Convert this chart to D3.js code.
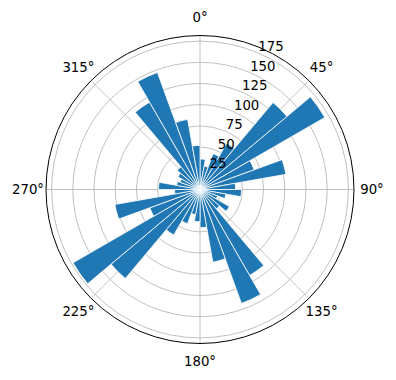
<!DOCTYPE html>
<html>
<head>
<meta charset="utf-8">
<script src="https://cdn.jsdelivr.net/npm/d3@7"></script>
<style>
  body { margin: 0; background: #fff; }
  svg text { font-family: "DejaVu Sans", sans-serif; font-size: 13.3px; fill: #000; }
</style>
</head>
<body>
<div id="chart"></div>
<script>
// bin centres (deg) and counts
const directions = [5, 15, 25, 35, 45, 55, 65, 75, 85, 95, 105, 115, 125, 135, 145, 155, 165, 175,
  185, 195, 205, 215, 225, 235, 245, 255, 265, 275, 285, 295, 305, 315, 325, 335, 345, 355];
const counts = [36, 28, 45, 63, 134, 170, 68, 103, 42, 49, 31, 22, 40, 30, 117, 143, 87, 45,
  38, 30, 43, 62, 137, 173, 63, 102, 30, 49, 28, 25, 30, 35, 119, 147, 84, 52];
const binWidth = 10;
const rTicks = [25, 50, 75, 100, 125, 150, 175];
const thetaTicks = [0, 45, 90, 135, 180, 225, 270, 315];

const width = 396, height = 380;
const cx = 200, cy = 189.5, R = 154;

const svg = d3.select("#chart").append("svg")
  .attr("width", width)
  .attr("height", height);
const g = svg.append("g").attr("transform", `translate(${cx},${cy})`);

const rmax = d3.max(counts) * 1.05;
const r = d3.scaleLinear().domain([0, rmax]).range([0, R]);
const theta = d3.scaleLinear().domain([0, 360]).range([0, 2 * Math.PI]);

// grid circles
g.selectAll(".rgrid")
  .data(rTicks)
  .enter().append("circle")
  .attr("r", d => r(d))
  .attr("fill", "none")
  .attr("stroke", "#b0b0b0")
  .attr("stroke-width", 0.8);

// spokes
g.selectAll(".tgrid")
  .data(thetaTicks)
  .enter().append("line")
  .attr("x1", 0).attr("y1", 0)
  .attr("x2", d => R * Math.sin(theta(d)))
  .attr("y2", d => -R * Math.cos(theta(d)))
  .attr("stroke", "#b0b0b0")
  .attr("stroke-width", 0.8);

// bars
const arc = d3.arc()
  .innerRadius(0)
  .outerRadius(d => r(d.v))
  .startAngle(d => theta(d.a - binWidth / 2))
  .endAngle(d => theta(d.a + binWidth / 2));

g.selectAll(".bar")
  .data(directions.map((a, i) => ({ a: a, v: counts[i] })))
  .enter().append("path")
  .attr("class", "bar")
  .attr("d", arc)
  .attr("fill", "#1f77b4")
  .attr("stroke", "#fff")
  .attr("stroke-width", 0.8);

// outer spine
g.append("circle")
  .attr("r", R)
  .attr("fill", "none")
  .attr("stroke", "#000")
  .attr("stroke-width", 1);

// angle labels
g.selectAll(".tlabel")
  .data(thetaTicks)
  .enter().append("text")
  .attr("x", d => (R + 18) * Math.sin(theta(d)))
  .attr("y", d => -(R + 18) * Math.cos(theta(d)))
  .attr("text-anchor", "middle")
  .attr("dominant-baseline", "central")
  .text(d => d + "°");

// radial labels along 22.5 deg
const rlabelAngle = theta(22.5);
g.selectAll(".rlabel")
  .data(rTicks)
  .enter().append("text")
  .attr("x", d => r(d) * Math.sin(rlabelAngle) + 1.5)
  .attr("y", d => -r(d) * Math.cos(rlabelAngle) - 1.5)
  .attr("text-anchor", "start")
  .text(d => d);
</script>
</body>
</html>
